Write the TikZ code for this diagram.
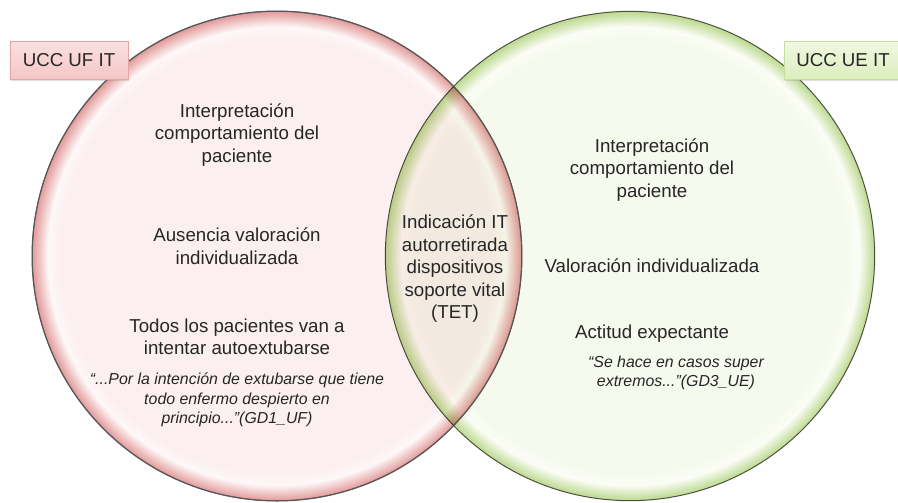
\documentclass[tikz,border=0pt]{standalone}
\usepackage{fontspec}
\setmainfont{Liberation Sans}
\usetikzlibrary{shadows}

\definecolor{ufin}{HTML}{FCEFEF}
\definecolor{ufhi}{HTML}{FEF8F8}
\definecolor{ufout}{HTML}{E39A9A}
\definecolor{uein}{HTML}{F6FAEE}
\definecolor{uehi}{HTML}{FBFDF6}
\definecolor{ueout}{HTML}{BCD88E}
\definecolor{ufcajaA}{HTML}{FBE0E0}
\definecolor{ufcajaB}{HTML}{F4C6C6}
\definecolor{ufborde}{HTML}{E3A5A5}
\definecolor{uecajaA}{HTML}{F1F8E2}
\definecolor{uecajaB}{HTML}{DDEDBD}
\definecolor{ueborde}{HTML}{C6DDA2}

\pgfdeclareradialshading{ufrim}{\pgfpoint{0bp}{0bp}}{color(0bp)=(ufin); color(22.2bp)=(ufin); color(23.4bp)=(ufhi); color(25bp)=(ufout); color(50bp)=(ufout)}
\pgfdeclareradialshading{uerim}{\pgfpoint{0bp}{0bp}}{color(0bp)=(uein); color(22.2bp)=(uein); color(23.4bp)=(uehi); color(25bp)=(ueout); color(50bp)=(ueout)}

\begin{document}
\begin{tikzpicture}[
    x=0.025cm, y=-0.025cm, % one unit is one pixel of the sketch, y runs down
    every node/.style={
        align=center, % Center text within nodes
        text=black!85,
        font=\fontsize{13.3}{16}\selectfont % main text size
    },
    venn/.style={
        circle,
        draw=black!65,
        line width=0.7pt,
        inner sep=0pt,
        minimum size=348pt % 490 px across
    },
    caja/.style={
        rectangle,
        line width=0.6pt,
        minimum width=84pt,
        minimum height=27pt,
        drop shadow={opacity=0.25, shadow xshift=0.6pt, shadow yshift=-1.2pt}
    },
    ufcaja/.style={caja, draw=ufborde, top color=ufcajaA, bottom color=ufcajaB},
    uecaja/.style={caja, draw=ueborde, top color=uecajaA, bottom color=uecajaB},
    cita/.style={font=\fontsize{11.3}{13.8}\selectfont\itshape} % quotes
]
\useasboundingbox (0,0) rectangle (898,502);

% the two sets
\node[venn, shading=ufrim] (ufset) at (277,256) {};
\begin{scope}[blend mode=multiply]
\node[venn, shading=uerim] (ueset) at (630,256) {};
\end{scope}
\draw[black!65, line width=0.7pt] (ufset.center) circle (245);

% labels
\node[ufcaja] (uf) at (69,60) {UCC UF IT};
\node[uecaja] (ue) at (843,60) {UCC UE IT};

% left set
\node (ufinterp) at (237,135) {Interpretación\\comportamiento del\\paciente};
\node (ufaus) at (237,246) {Ausencia valoración\\individualizada};
\node (uftodos) at (237,337) {Todos los pacientes van a\\intentar autoextubarse};
\node[cita] (ufcita) at (237,400) {“...Por la intención de extubarse que tiene\\todo enfermo despierto en\\principio...”(GD1\_UF)};

% shared part
\node (comun) at (455,269) {Indicación IT\\autorretirada\\dispositivos\\soporte vital\\(TET)};

% right set
\node (ueinterp) at (652,170) {Interpretación\\comportamiento del\\paciente};
\node (ueval) at (652,266) {Valoración individualizada};
\node (ueact) at (652,334) {Actitud expectante};
\node[cita] (uecita) at (676,373) {“Se hace en casos super\\extremos...”(GD3\_UE)};
\end{tikzpicture}
\end{document}
